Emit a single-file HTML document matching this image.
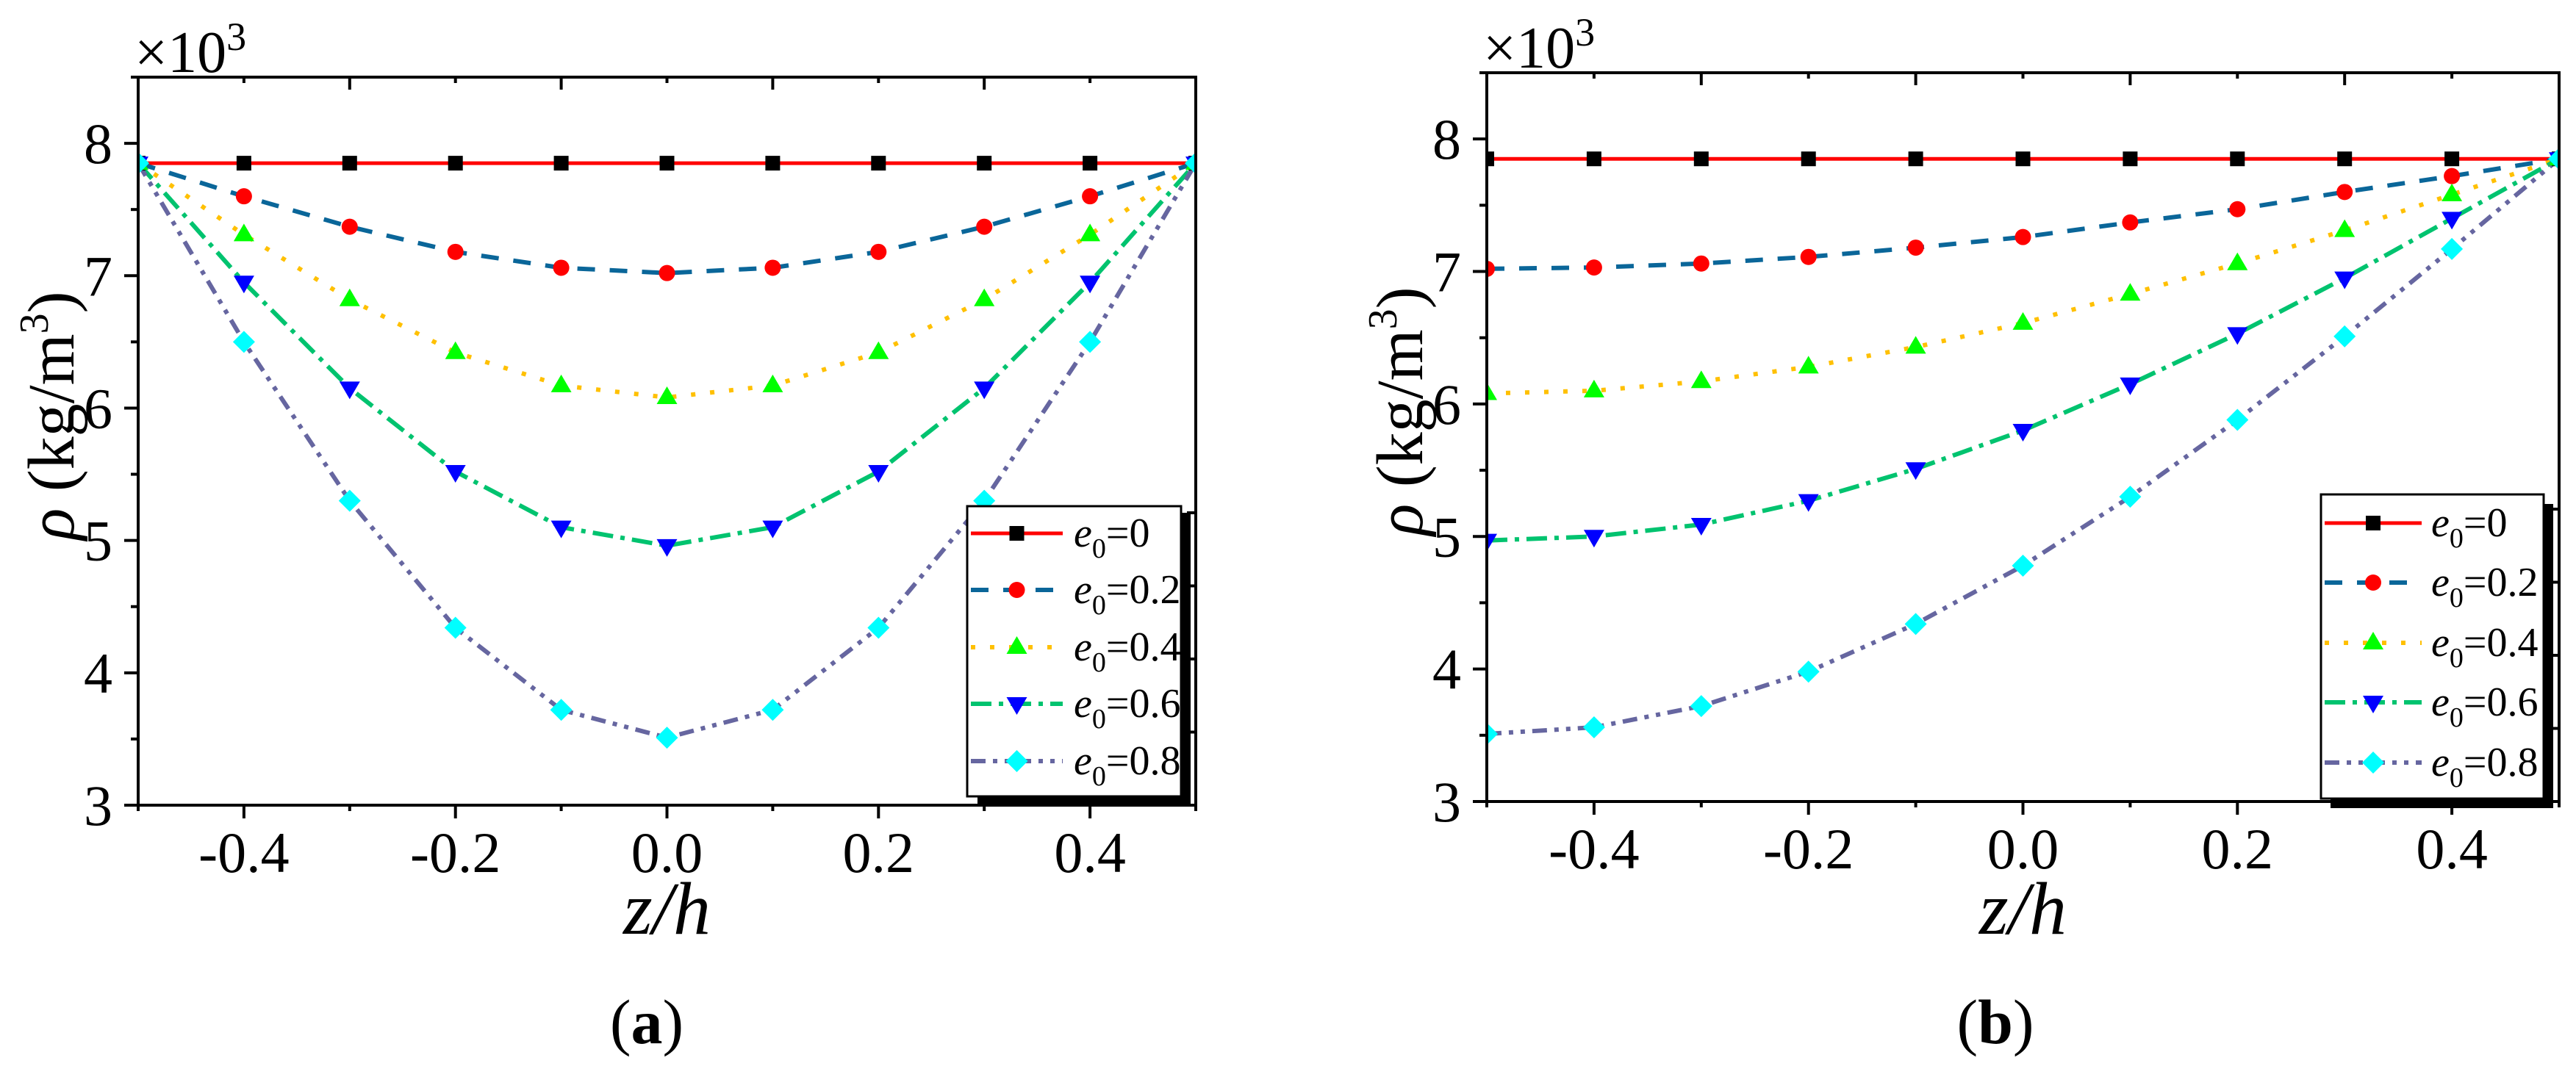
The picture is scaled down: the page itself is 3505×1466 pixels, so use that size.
<!DOCTYPE html>
<html><head><meta charset="utf-8"><style>
html,body{margin:0;padding:0;background:#fff;}
svg{display:block;font-family:"Liberation Serif","Times New Roman",serif;}
</style></head><body>
<svg id="fig" width="3505" height="1466" viewBox="0 0 3505 1466" xmlns="http://www.w3.org/2000/svg"></svg>
<script>
// ---- data ----
const zValues = [-0.5,-0.4,-0.3,-0.2,-0.1,0,0.1,0.2,0.3,0.4,0.5];
const seriesLabels = ["0","0.2","0.4","0.6","0.8"];
const xTickLabels = ["-0.4","-0.2","0.0","0.2","0.4"];
const yTickLabels = ["3","4","5","6","7","8"];
// panel (a)
const a_e0   = [7.85,7.85,7.85,7.85,7.85,7.85,7.85,7.85,7.85,7.85,7.85];
const a_e02  = [7.85,7.60,7.37,7.18,7.06,7.02,7.06,7.18,7.37,7.60,7.85];
const a_e04  = [7.85,7.31,6.82,6.42,6.17,6.08,6.17,6.42,6.82,7.31,7.85];
const a_e06  = [7.85,6.95,6.15,5.52,5.10,4.96,5.10,5.52,6.15,6.95,7.85];
const a_e08  = [7.85,6.50,5.30,4.34,3.72,3.51,3.72,4.34,5.30,6.50,7.85];
// panel (b)
const b_e0   = [7.85,7.85,7.85,7.85,7.85,7.85,7.85,7.85,7.85,7.85,7.85];
const b_e02  = [7.02,7.03,7.06,7.11,7.18,7.26,7.37,7.47,7.60,7.72,7.85];
const b_e04  = [6.08,6.10,6.17,6.28,6.43,6.61,6.83,7.06,7.31,7.58,7.85];
const b_e06  = [4.97,5.00,5.09,5.27,5.51,5.80,6.15,6.53,6.95,7.40,7.85];
const b_e08  = [3.51,3.56,3.72,3.98,4.34,4.78,5.30,5.88,6.51,7.17,7.85];

const NS="http://www.w3.org/2000/svg";
const svg=document.getElementById('fig');
function mk(tag,attrs,parent){const e=document.createElementNS(NS,tag);for(const k in attrs)e.setAttribute(k,attrs[k]);(parent||svg).appendChild(e);return e;}

const styles=[
 {color:"#ff0000",dash:"",w:5,marker:"square",mcol:"#000000"},
 {color:"#0a6699",dash:"24 20",w:6,marker:"circle",mcol:"#ff0000"},
 {color:"#ffc000",dash:"6 20",w:6,marker:"up",mcol:"#00ff00"},
 {color:"#00c36f",dash:"28 10 6 10",w:6,marker:"down",mcol:"#0000ff"},
 {color:"#6666a0",dash:"20 10 6 10 6 10",w:6,marker:"diamond",mcol:"#00ffff"}
];

function marker(g,type,x,y,col){
  let e;
  if(type==="square") e=mk('rect',{x:x-10,y:y-10,width:20,height:20,fill:col},g);
  else if(type==="circle") e=mk('circle',{cx:x,cy:y,r:11,fill:col},g);
  else if(type==="up") e=mk('polygon',{points:`${x-14},${y+9} ${x+14},${y+9} ${x},${y-15}`,fill:col},g);
  else if(type==="down") e=mk('polygon',{points:`${x-14},${y-9} ${x+14},${y-9} ${x},${y+15}`,fill:col},g);
  else e=mk('polygon',{points:`${x},${y-15} ${x+15},${y} ${x},${y+15} ${x-15},${y}`,fill:col},g);
  return e;
}

function panel(id,L,R,T,B,series,legend,ylab,caption){
  const yMin=3,yMax=8.5;
  const sx=v=>L+(v+0.5)/1*(R-L);
  const sy=v=>B-(v-yMin)/(yMax-yMin)*(B-T);
  const g=mk('g',{});
  
  
  const defs=mk('defs',{},g);
  const cp=mk('clipPath',{id:'clip-'+id},defs);
  mk('rect',{x:L,y:T,width:R-L,height:B-T},cp);
  const plot=mk('g',{'clip-path':`url(#clip-${id})`},g);
  series.forEach((vals,si)=>{
    const st=styles[si];
    const pts=vals.map((v,i)=>`${sx(zValues[i]).toFixed(1)},${sy(v).toFixed(1)}`).join(' ');
    const pl=mk('polyline',{points:pts,fill:'none',stroke:st.color,'stroke-width':st.w,'stroke-dasharray':st.dash},plot);
    
    
  });
  series.forEach((vals,si)=>{
    const st=styles[si];
    vals.forEach((v,i)=>{
      const m=marker(plot,st.marker,sx(zValues[i]),sy(v),st.mcol);
      
      
    });
  });
  // legend
  const lg=mk('g',{},g);
  
  
  mk('rect',{x:legend.sx,y:legend.sy,width:legend.sw,height:legend.sh,fill:'#000'},lg);
  mk('rect',{x:legend.x,y:legend.y,width:legend.w,height:legend.h,fill:'#fff',stroke:'#000','stroke-width':3},lg);
  seriesLabels.forEach((lab,si)=>{
    const st=styles[si];
    const ry=legend.rows[si];
    const eg=mk('g',{},lg);
    
    
    mk('line',{x1:legend.lx1,x2:legend.lx2,y1:ry,y2:ry,stroke:st.color,'stroke-width':st.w,'stroke-dasharray':st.dash},eg);
    marker(eg,st.marker,(legend.lx1+legend.lx2)/2,ry,st.mcol);
    const t=mk('text',{x:legend.tx,y:ry+18,'font-size':56},eg);
    const t1=mk('tspan',{'font-style':'italic'},t);t1.textContent='e';
    const t2=mk('tspan',{'font-size':38,dy:15},t);t2.textContent='0';
    const t3=mk('tspan',{dy:-15},t);t3.textContent='='+lab;
  });
  // axes
  const ax=mk('g',{stroke:'#000','stroke-width':4,fill:'none'},g);
  
  
  mk('rect',{x:L,y:T,width:R-L,height:B-T},ax);
  for(let k=0;k<=10;k++){
    const v=-0.5+k*0.1, x=sx(v);
    const even=(k%2===1);
    mk('line',{x1:x,x2:x,y1:B,y2:B+(even?18:8)},ax);
    if(k>0&&k<10) mk('line',{x1:x,x2:x,y1:T,y2:T+(even?8:17)},ax);
  }
  for(let v=3;v<=8.5;v+=0.5){
    const y=sy(v), maj=(v%1===0);
    mk('line',{x1:L,x2:L-(maj?19:10),y1:y,y2:y},ax);
  }
  for(let k=1;k<=4;k++){const y=B-k*99.5;mk('line',{x1:R,x2:R-12,y1:y,y2:y},ax);}
  // tick labels
  xTickLabels.forEach(lab=>{
    const t=mk('text',{x:sx(parseFloat(lab)),y:B+91,'font-size':78,'text-anchor':'middle'},g);
    t.textContent=lab;
    
    
  });
  yTickLabels.forEach(lab=>{
    const t=mk('text',{x:L-35,y:sy(parseFloat(lab))+27,'font-size':78,'text-anchor':'end'},g);
    t.textContent=lab;
    
    
  });
  // multiplier
  const mt=mk('text',{x:L-5,y:T-7,'font-size':80},g);
  
  
  const m1=mk('tspan',{},mt);m1.textContent='×10';
  const m2=mk('tspan',{'font-size':54,dy:-30},mt);m2.textContent='3';
  // x title
  const xt=mk('text',{x:(L+R)/2,y:1271,'font-size':102,'font-style':'italic','text-anchor':'middle'},g);
  xt.textContent='z/h';
  
  
  // y title
  const yt=mk('text',{x:0,y:0,'font-size':90,transform:`translate(${ylab.x},${ylab.y}) rotate(-90)`},g);
  
  
  const y1=mk('tspan',{'font-style':'italic'},yt);y1.textContent='ρ';
  const y2=mk('tspan',{},yt);y2.textContent=' (kg/m';
  const y3=mk('tspan',{'font-size':56,dy:-35},yt);y3.textContent='3';
  const y4=mk('tspan',{dy:35},yt);y4.textContent=')';
  // caption
  const ct=mk('text',{x:caption,y:1420,'font-size':86,'text-anchor':'middle'},g);
  
  
  const c1=mk('tspan',{},ct);c1.textContent='(';
  const c2=mk('tspan',{'font-weight':'bold'},ct);c2.textContent=id;
  const c3=mk('tspan',{},ct);c3.textContent=')';
}

panel('a',188,1627,105,1096,[a_e0,a_e02,a_e04,a_e06,a_e08],
 {x:1316,y:689,w:291,h:395,sx:1330,sy:698,sw:290,sh:399,lx1:1321,lx2:1446,tx:1461,rows:[726,803,881,958,1036]},
 {x:100,y:735},880);
panel('b',2023,3482,99,1091,[b_e0,b_e02,b_e04,b_e06,b_e08],
 {x:3158,y:673,w:303,h:414,sx:3171,sy:686,sw:303,sh:414,lx1:3163,lx2:3295,tx:3308,rows:[712,793,875,956,1038]},
 {x:1935,y:729},2715);
</script>
</body></html>
